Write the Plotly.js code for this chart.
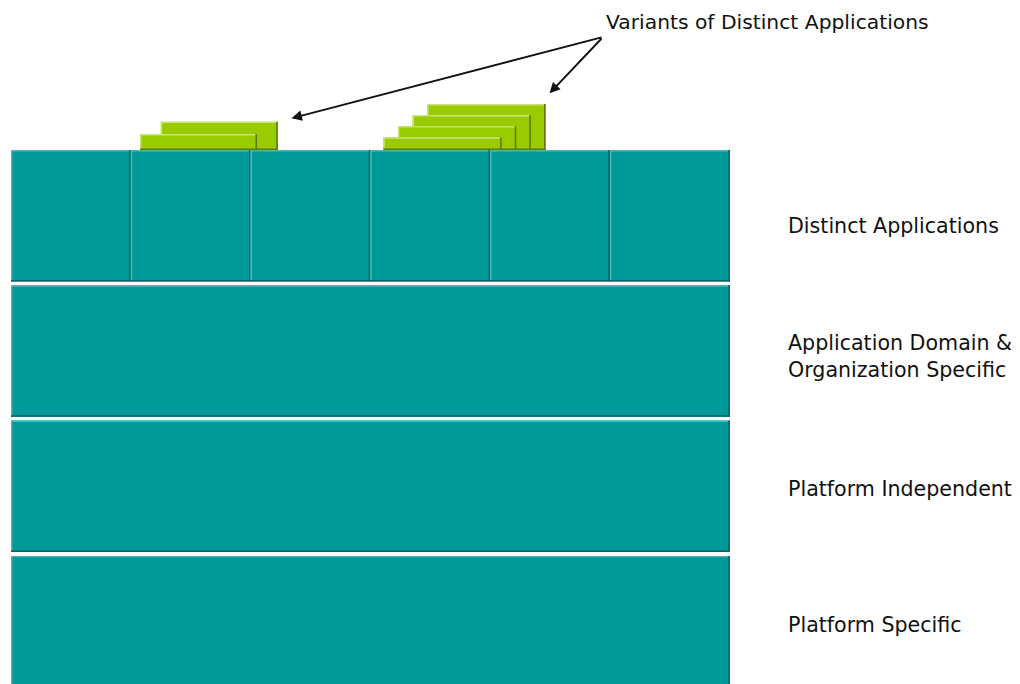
<!DOCTYPE html>
<html>
<head>
<meta charset="utf-8">
<script src="https://cdn.plot.ly/plotly-3.0.1.min.js"></script>
<style>
  html, body { margin: 0; padding: 0; background: #ffffff; }
  #chart { width: 1020px; height: 684px; }
</style>
</head>
<body>
<div id="chart"></div>
<script>
// ---------------- data ----------------
// layers of the software stack, bottom to top
const layerNames = [
  'Platform Specific',
  'Platform Independent',
  'Application Domain &<br>Organization Specific',
  'Distinct Applications'
];
// the distinct applications sitting in the top layer
const applications = ['App 1', 'App 2', 'App 3', 'App 4', 'App 5', 'App 6'];
// number of variants drawn behind each distinct application
const variantCounts = [0, 2, 0, 4, 0, 0];
const calloutText = 'Variants of Distinct Applications';

// ---------------- styling / layout constants ----------------
const W = 1020, H = 684;
const pxPerX = 119.8, pxPerY = 135.3;      // pixel size of one unit
const PX = 1 / pxPerX, PY = 1 / pxPerY;
const xRange = [-11 / pxPerX, (W - 11) / pxPerX];
const yRange = [(687.4 - H) / pxPerY, 687.4 / pxPerY];
const layerH = 0.972;                       // layer height (rest is gap)
const teal = '#009999', tealLight = '#4cb8b8', tealDark = '#006666';
const green = '#99cc00', greenLight = '#cbe47c', greenDark = '#5c7d00';
const textColor = '#111111';
const fontFamily = '"DejaVu Sans", Verdana, sans-serif';
// variant stack geometry by stack size (units)
const variantStyle = {
  2: {x0: 0.077, w: 0.977, dx: 0.173, h0: 0.118, dy: 0.091},
  4: {x0: 0.108, w: 0.988, dx: 0.122, h0: 0.094, dy: 0.082}
};
const labelX = (786 - 11) / pxPerX;
const labelShiftPx = [-3, -3, -5, -10];     // downward nudge of layer labels
const calloutPos = {x: (604 - 11) / pxPerX, y: (687.4 - 21) / pxPerY};

// ---------------- build shapes ----------------
const shapes = [];
function bevelRect(x0, x1, y0, y1, fill, light, dark) {
  shapes.push({type: 'rect', xref: 'x', yref: 'y', x0, x1, y0, y1,
               fillcolor: fill, line: {width: 0}, layer: 'above'});
  shapes.push({type: 'line', xref: 'x', yref: 'y', x0: x0, x1: x1,
               y0: y1 - 0.7 * PY, y1: y1 - 0.7 * PY, line: {color: light, width: 1.4}});
  shapes.push({type: 'line', xref: 'x', yref: 'y', x0: x0 + 0.7 * PX, x1: x0 + 0.7 * PX,
               y0: y0, y1: y1, line: {color: light, width: 1.4}});
  shapes.push({type: 'line', xref: 'x', yref: 'y', x0: x1 - 0.8 * PX, x1: x1 - 0.8 * PX,
               y0: y0, y1: y1, line: {color: dark, width: 1.6}});
  shapes.push({type: 'line', xref: 'x', yref: 'y', x0: x0, x1: x1,
               y0: y0 + 0.8 * PY, y1: y0 + 0.8 * PY, line: {color: dark, width: 1.6}});
}

const nApps = applications.length;
const topLayer = layerNames.length - 1;
const topLayerTop = topLayer + layerH;
const arrowHeads = [];

// variants (drawn first, from the back to the front)
variantCounts.forEach((count, i) => {
  if (!count) return;
  const s = variantStyle[count];
  for (let k = count - 1; k >= 0; k--) {
    const x0 = i + s.x0 + k * s.dx;
    const x1 = x0 + s.w;
    const y1 = topLayerTop + s.h0 + k * s.dy;
    bevelRect(x0, x1, topLayerTop, y1, green, greenLight, greenDark);
    if (k === count - 1) arrowHeads.push({x: x1, y: y1, count});
  }
});

// layers
layerNames.forEach((name, k) => {
  if (k === topLayer) {
    applications.forEach((a, i) => bevelRect(i, i + 1, k, k + layerH, teal, tealLight, tealDark));
  } else {
    bevelRect(0, nApps, k, k + layerH, teal, tealLight, tealDark);
  }
});

// ---------------- annotations ----------------
const annotations = [];
layerNames.forEach((name, k) => {
  annotations.push({
    x: labelX, y: k + layerH / 2, xref: 'x', yref: 'y',
    text: name, showarrow: false, xanchor: 'left', yanchor: 'middle', align: 'left',
    yshift: labelShiftPx[k],
    font: {family: fontFamily, size: 20.6, color: textColor}
  });
});
annotations.push({
  x: calloutPos.x, y: calloutPos.y, xref: 'x', yref: 'y',
  text: calloutText, showarrow: false, xanchor: 'left', yanchor: 'middle',
  yshift: -1,
  font: {family: fontFamily, size: 20.3, color: textColor}
});
const headOffsetPx = {2: [13.7, 3.4], 4: [4, 10.7]};
const tail = {x: calloutPos.x - 1 * PX, y: calloutPos.y - 16 * PY};
arrowHeads.forEach(h => {
  const o = headOffsetPx[h.count];
  annotations.push({
    x: h.x + o[0] * PX, y: h.y + o[1] * PY, xref: 'x', yref: 'y',
    ax: tail.x, ay: tail.y, axref: 'x', ayref: 'y',
    text: '', showarrow: true, arrowhead: 2, arrowsize: 1.1, arrowwidth: 1.9,
    arrowcolor: textColor, standoff: 0, startstandoff: 0
  });
});

const data = [{x: [], y: [], type: 'scatter', mode: 'markers', hoverinfo: 'skip', showlegend: false}];

const layout = {
  width: W, height: H,
  margin: {l: 0, r: 0, t: 0, b: 0, pad: 0},
  paper_bgcolor: '#ffffff', plot_bgcolor: '#ffffff',
  showlegend: false,
  xaxis: {range: xRange, visible: false, fixedrange: true},
  yaxis: {range: yRange, visible: false, fixedrange: true},
  shapes, annotations
};

Plotly.newPlot('chart', data, layout, {staticPlot: true, displayModeBar: false});
</script>
</body>
</html>
